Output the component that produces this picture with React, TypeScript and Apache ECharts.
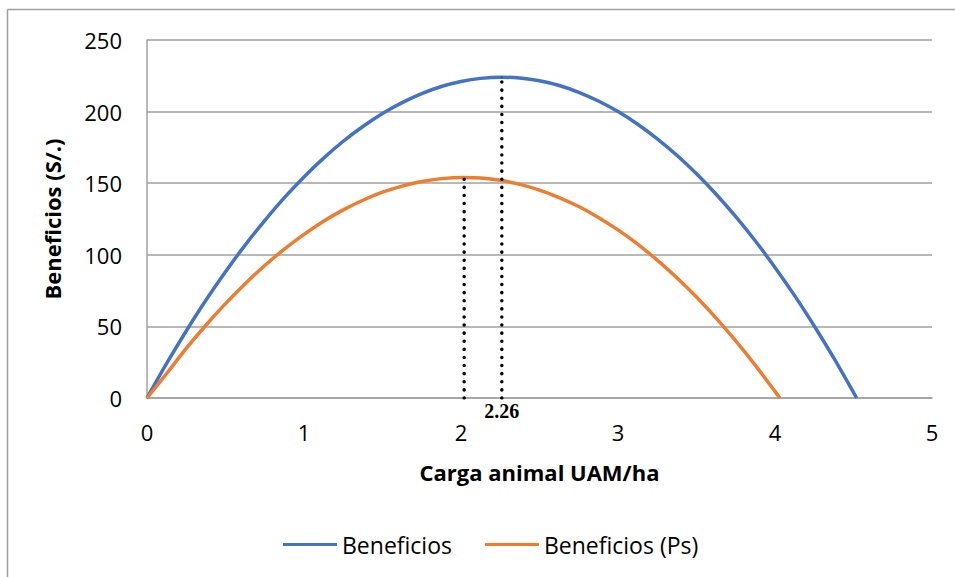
import React, { useEffect, useRef } from "react";
import * as echarts from "echarts";

// Beneficios (blue)
const benefX = [0, 0.125, 0.25, 0.375, 0.5, 0.625, 0.75, 0.875, 1.0, 1.125, 1.25, 1.375, 1.5, 1.625, 1.75, 1.875, 2.0, 2.125, 2.26, 2.375, 2.5, 2.625, 2.75, 2.875, 3.0, 3.125, 3.25, 3.375, 3.5, 3.625, 3.75, 3.875, 4.0, 4.125, 4.25, 4.375, 4.52];
const benefY = [0, 24.1, 46.8, 68.2, 88.1, 106.8, 123.9, 139.9, 154.4, 167.5, 179.3, 189.6, 198.7, 206.3, 212.6, 217.5, 221, 223.2, 224, 223.4, 221.5, 218.2, 213.5, 207.4, 200, 191.2, 181, 169.5, 156.6, 142.3, 126.6, 109.6, 91.2, 71.5, 50.3, 27.8, 0];
// Beneficios (Ps) (orange)
const psX = [0, 0.125, 0.25, 0.375, 0.5, 0.625, 0.75, 0.875, 1.0, 1.125, 1.25, 1.375, 1.5, 1.625, 1.75, 1.875, 2.02, 2.125, 2.25, 2.375, 2.5, 2.625, 2.75, 2.875, 3.0, 3.125, 3.25, 3.375, 3.5, 3.625, 3.75, 3.875, 4.0, 4.03];
const psY = [0, 17.1, 34.6, 50.8, 65.9, 79.8, 92.5, 104, 114.3, 123.5, 131.4, 138.1, 143.7, 148, 151.2, 153.2, 154, 153.6, 152, 149.2, 145.2, 140, 133.7, 126.1, 117.4, 107.5, 96.3, 84, 70.5, 55.8, 39.9, 22.8, 4.6, 0];
// Optimum markers
const optBenef = [2.26, 224];
const optPs = [2.02, 154];

const seriesNames = ["Beneficios", "Beneficios (Ps)"];
const colors = ["#4472C4", "#ED7D31"];

const FONT = "'Open Sans', 'Liberation Sans', sans-serif";

export default function App() {
  const ref = useRef<HTMLDivElement>(null);
  useEffect(() => {
    if (!ref.current) return;
    const chart = echarts.init(ref.current, null, { renderer: "svg" });
    const zip = (xs: number[], ys: number[]) => xs.map((x, i) => [x, ys[i]]);
    const dotted = {
      color: "#000",
      width: 3.5,
      type: [0.1, 8],
      cap: "round" as const,
    };
    chart.setOption({
      animation: false,
      backgroundColor: "#fff",
      grid: { left: 147, right: 23, top: 40, bottom: 179, containLabel: false },
      graphic: [
        { type: "line", shape: { x1: 7.5, y1: 9.5, x2: 955, y2: 9.5 }, style: { stroke: "#a0a0a0", lineWidth: 1.5 } },
        { type: "line", shape: { x1: 7.5, y1: 9.5, x2: 7.5, y2: 577 }, style: { stroke: "#a0a0a0", lineWidth: 1.5 } },
      ],
      legend: {
        data: seriesNames,
        left: 278,
        top: 528,
        icon: "rect",
        itemWidth: 54,
        itemHeight: 3,
        itemGap: 33,
        textStyle: { fontFamily: FONT, fontSize: 23, color: "#000" },
      },
      xAxis: {
        type: "value",
        min: 0,
        max: 5,
        interval: 1,
        name: "Carga animal UAM/ha",
        nameLocation: "middle",
        nameGap: 63,
        nameTextStyle: { fontFamily: FONT, fontSize: 22, fontWeight: "bold", color: "#000" },
        axisLine: { show: true, lineStyle: { color: "#a0a0a0", width: 1.5 } },
        axisTick: { show: false },
        splitLine: { show: false },
        axisLabel: { fontFamily: FONT, fontSize: 22, color: "#000", margin: 23 },
      },
      yAxis: {
        type: "value",
        min: 0,
        max: 250,
        interval: 50,
        name: "Beneficios (S/.)",
        nameLocation: "middle",
        nameGap: 84,
        nameTextStyle: { fontFamily: FONT, fontSize: 22, fontWeight: "bold", color: "#000" },
        axisLine: { show: true, lineStyle: { color: "#a0a0a0", width: 1.5 } },
        axisTick: { show: false },
        splitLine: { show: true, lineStyle: { color: "#a0a0a0", width: 1.5 } },
        axisLabel: { fontFamily: FONT, fontSize: 22, color: "#000", margin: 25 },
      },
      series: [
        {
          name: seriesNames[0],
          type: "line",
          smooth: 0.25,
          showSymbol: false,
          data: zip(benefX, benefY),
          lineStyle: { color: colors[0], width: 3.5 },
          itemStyle: { color: colors[0] },
          z: 3,
        },
        {
          name: seriesNames[1],
          type: "line",
          smooth: 0.25,
          showSymbol: false,
          data: zip(psX, psY),
          lineStyle: { color: colors[1], width: 3.5 },
          itemStyle: { color: colors[1] },
          z: 3,
        },
        {
          name: "optPs",
          type: "line",
          symbol: "none",
          data: [[optPs[0], 0], [optPs[0], optPs[1]]],
          lineStyle: dotted,
          z: 4,
        },
        {
          name: "optBenef",
          type: "line",
          symbol: "circle",
          symbolSize: 1,
          showSymbol: true,
          itemStyle: { color: "#000" },
          data: [
            {
              value: [optBenef[0], 0],
              label: {
                show: true,
                position: "bottom",
                distance: 2,
                formatter: (p: any) => p.value[0].toFixed(2),
                fontFamily: "'Liberation Serif', 'DejaVu Serif', serif",
                fontWeight: "bold",
                fontSize: 20,
                color: "#000",
              },
            },
            { value: [optBenef[0], optBenef[1]] },
          ],
          lineStyle: dotted,
          z: 4,
        },
      ],
    });
    return () => chart.dispose();
  }, []);
  return (
    <div
      ref={ref}
      style={{ position: "absolute", left: 0, top: 0, width: 955, height: 577 }}
    />
  );
}
